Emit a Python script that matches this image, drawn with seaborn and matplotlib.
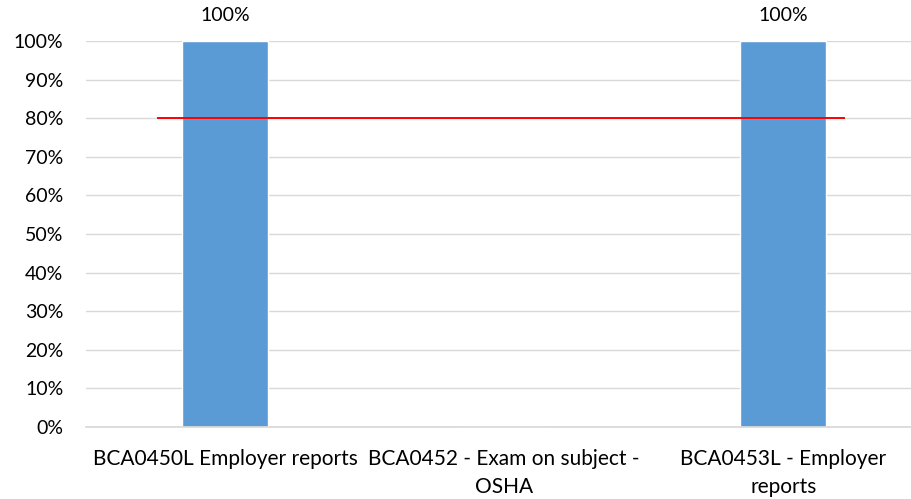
"""Course outcome chart: share of students meeting target per assessment."""

import matplotlib
matplotlib.use("Agg")
import matplotlib.pyplot as plt
import pandas as pd
import seaborn as sns
from matplotlib.ticker import PercentFormatter

categories = [
    "BCA0450L Employer reports",
    "BCA0452 - Exam on subject -\nOSHA",
    "BCA0453L - Employer\nreports",
]
values = [1.0, 0.0, 1.0]
value_labels = ["100%", None, "100%"]
target = 0.8

df = pd.DataFrame({"category": categories, "value": values})

sns.set_theme(style="white")
plt.rcParams["font.family"] = ["Lato", "DejaVu Sans"]

fig = plt.figure(figsize=(9.12, 4.99), dpi=100)
ax = fig.add_axes([0.0938, 0.1443, 0.918, 0.7735])

sns.barplot(data=df, x="category", y="value", color="#5B9BD5",
            width=0.31, saturation=1, ax=ax, zorder=2)

ax.hlines(target, -0.245, len(categories) - 1 + 0.222, color="#FF0000",
          linewidth=1.4, zorder=3)

for i, (v, lab) in enumerate(zip(values, value_labels)):
    if lab:
        ax.text(i, v + 0.045, lab, ha="center", va="bottom", fontsize=14,
                color="#000000", clip_on=False)

ax.set_ylim(0, 1)
ax.set_xlim(-0.5, len(categories) - 0.5)
ax.set_yticks([i / 10 for i in range(11)])
ax.yaxis.set_major_formatter(PercentFormatter(1.0, decimals=0))
ax.grid(axis="y", color="#D9D9D9", linewidth=1, zorder=0)
ax.set_axisbelow(True)
for side in ["top", "right", "left"]:
    ax.spines[side].set_visible(False)
ax.spines["bottom"].set_color("#D9D9D9")
ax.set_xlabel("")
ax.set_ylabel("")
ax.tick_params(axis="both", length=0, labelsize=14, colors="#000000")
ax.tick_params(axis="y", pad=16)
ax.tick_params(axis="x", pad=16, labelsize=15)
for lab in ax.get_xticklabels():
    lab.set_linespacing(1.5)

fig.savefig("out.png", dpi=100)
